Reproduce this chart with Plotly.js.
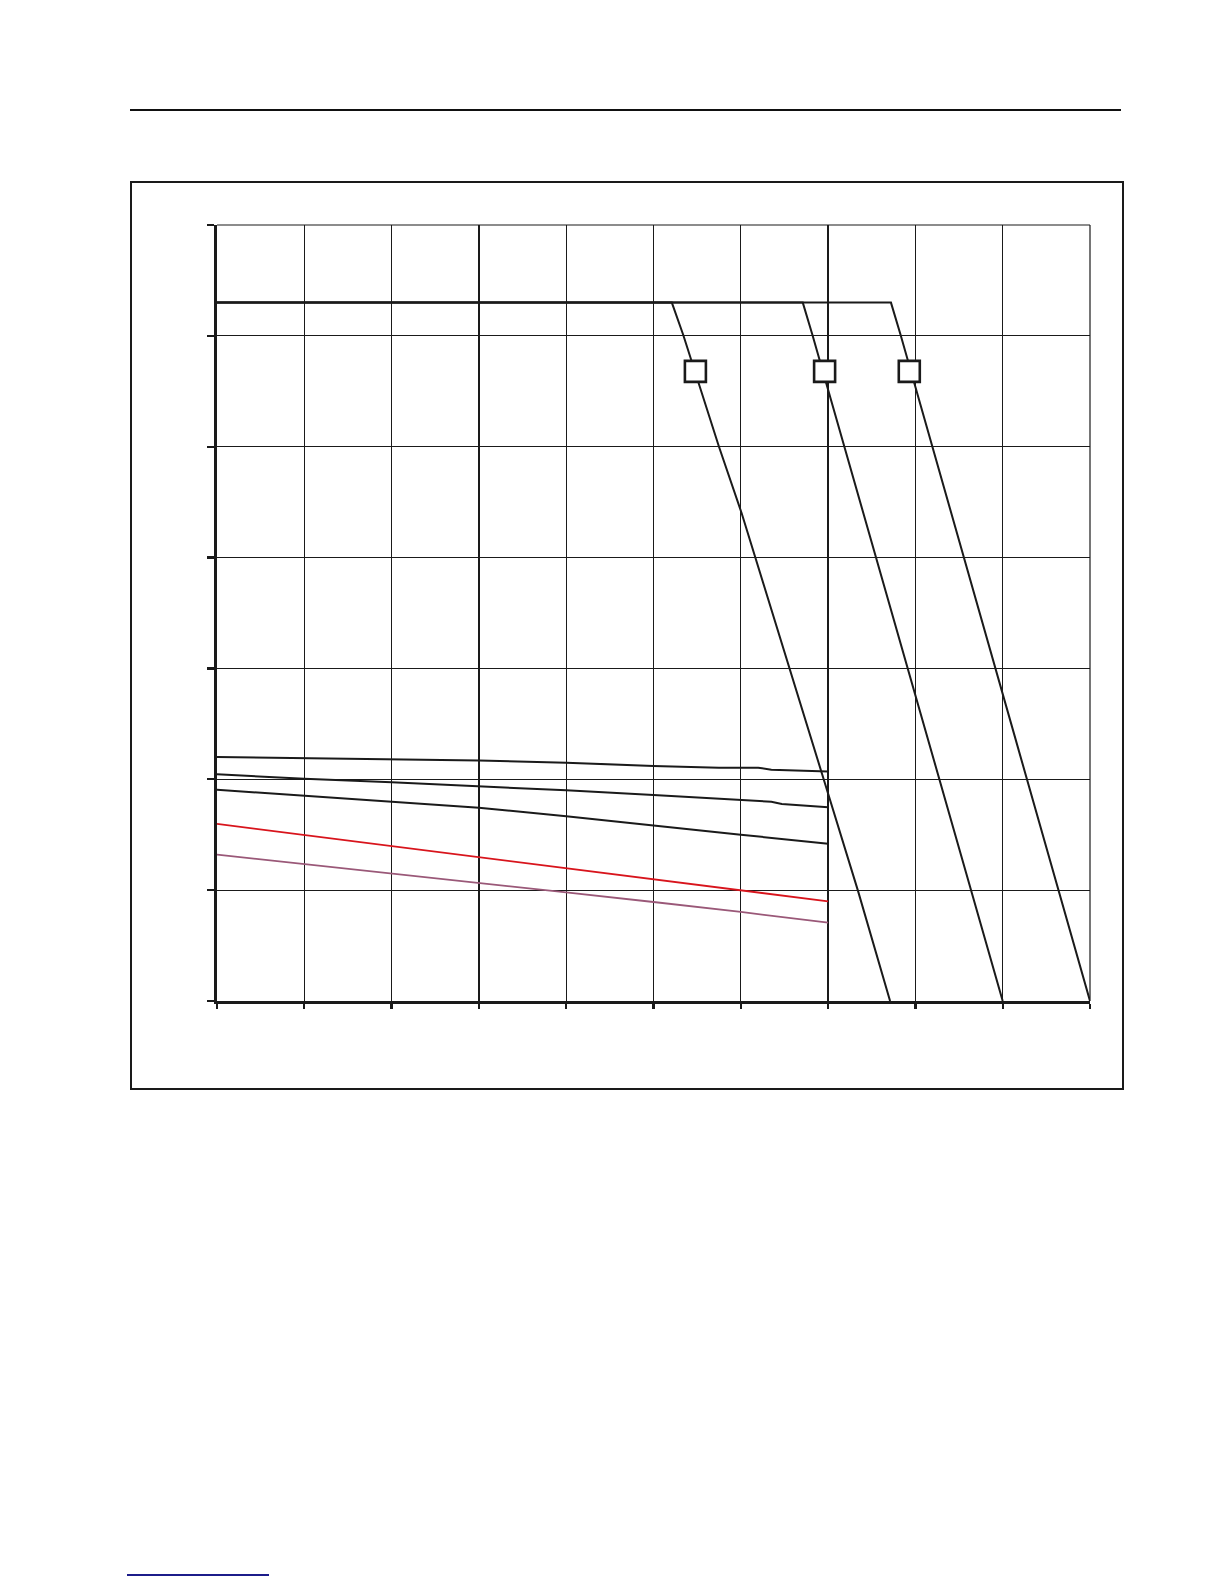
<!DOCTYPE html>
<html>
<head>
<meta charset="utf-8">
<script src="https://cdn.plot.ly/plotly-3.0.1.min.js"></script>
<style>
  body { margin: 0; background: #fff; }
  #chart { position: absolute; left: 0; top: 0; width: 1224px; height: 1584px; }
  .deco { position: absolute; pointer-events: none; }
  #frame { left: 130px; top: 181px; width: 994px; height: 909px; box-sizing: border-box; border: 2.5px solid #1a1a1a; }
  #rule { left: 130px; top: 109px; width: 991px; height: 1.6px; background: #111; }
  #link { left: 127px; top: 1574px; width: 142px; height: 2px; background: #1c1c8a; }
</style>
</head>
<body>
<div id="chart"></div>
<div id="frame" class="deco"></div>
<div id="rule" class="deco"></div>
<div id="link" class="deco"></div>
<script>
// ===== Data =====
// upper family: flat plateau, then falling branch
const curveAx = [0, 5.21, 5.34, 5.43, 5.75, 6.01, 6.16, 6.55, 6.93, 7.34, 7.71];
const curveAy = [6.30, 6.30, 6.01, 5.79, 5.00, 4.40, 4.02, 3.01, 2.05, 1.00, 0];
const curveBx = [0, 6.71, 6.82, 9.0];
const curveBy = [6.30, 6.30, 6.01, 0];
const curveCx = [0, 7.72, 7.83, 10.0];
const curveCy = [6.30, 6.30, 6.01, 0];

// label boxes on the falling branches
const boxX = [5.48, 6.96, 7.93];
const boxY = [5.68, 5.68, 5.68];

// lower family, x = 0..7
const curveDx = [0, 1, 2, 3, 4, 5, 5.75, 6.2, 6.35, 6.7, 6.85, 7];
const curveDy = [2.20, 2.19, 2.18, 2.17, 2.15, 2.12, 2.105, 2.105, 2.087, 2.08, 2.072, 2.07];
const curveEx = [0, 1, 2, 3, 4, 5, 6, 6.35, 6.47, 7];
const curveEy = [2.045, 2.005, 1.973, 1.939, 1.90, 1.858, 1.810, 1.798, 1.777, 1.747];
const lowX = [0, 1, 2, 3, 4, 5, 6, 7];
const curveFy = [1.906, 1.852, 1.801, 1.744, 1.666, 1.581, 1.500, 1.419];
const curveGy = [1.597, 1.497, 1.398, 1.302, 1.200, 1.100, 0.998, 0.899];
const curveHy = [1.320, 1.236, 1.148, 1.064, 0.980, 0.893, 0.803, 0.706];

const BLACK = '#1a1a1a';

function line(x, y, color, width) {
  return { x, y, type: 'scatter', mode: 'lines', hoverinfo: 'skip',
           line: { color, width: width || 2 } };
}

const traces = [
  line(curveAx, curveAy, BLACK),
  line(curveBx, curveBy, BLACK),
  line(curveCx, curveCy, BLACK),
  line(curveDx, curveDy, BLACK),
  line(curveEx, curveEy, BLACK),
  line(lowX, curveFy, BLACK),
  line(lowX, curveGy, '#d8141c', 1.8),
  line(lowX, curveHy, '#9a5878', 1.8),
  { x: boxX, y: boxY, type: 'scatter', mode: 'markers', hoverinfo: 'skip',
    marker: { symbol: 'square', size: 21, color: '#fff', line: { color: BLACK, width: 2.6 } } },
];

const axisBase = {
  showgrid: true, gridcolor: BLACK, gridwidth: 1.2,
  zeroline: false, showticklabels: false,
  showline: true, linecolor: BLACK, linewidth: 2.6,
  ticks: 'outside', tickcolor: BLACK, tickwidth: 2.4,
  tick0: 0, dtick: 1, fixedrange: true,
};

// top and right edges are plain grid lines in the reference
const edge = { type: 'line', xref: 'paper', yref: 'paper', layer: 'below',
               line: { color: BLACK, width: 1.2 } };

const layout = {
  width: 1224, height: 1584,
  paper_bgcolor: 'rgba(0,0,0,0)', plot_bgcolor: 'rgba(0,0,0,0)',
  margin: { l: 217, r: 134, t: 225, b: 583, pad: 0 },
  showlegend: false,
  xaxis: { ...axisBase, range: [0, 10], ticklen: 5 },
  yaxis: { ...axisBase, range: [0, 7], ticklen: 7 },
  shapes: [
    { ...edge, x0: 0, x1: 1, y0: 1, y1: 1 },
    { ...edge, x0: 1, x1: 1, y0: 0, y1: 1 },
  ],
};

Plotly.newPlot('chart', traces, layout, { displayModeBar: false, staticPlot: true });
</script>
</body>
</html>
